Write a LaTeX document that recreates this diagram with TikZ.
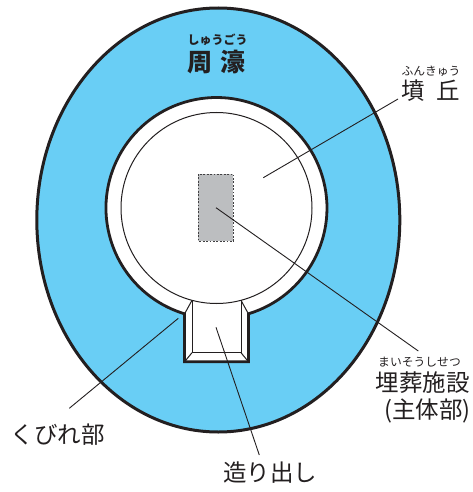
\documentclass[tikz,border=0pt]{standalone}
\usepackage{fontspec}
\setmainfont{Noto Sans CJK JP}
\newfontfamily\jp{Noto Sans CJK JP}
\definecolor{moat}{RGB}{105,206,245}
\definecolor{ink}{HTML}{231F20}
\definecolor{grave}{HTML}{BCBEC0}
\definecolor{dashc}{HTML}{414042}
\tikzset{
  thickline/.style={draw=ink, line width=2.8pt, line join=miter},
  thinline/.style={draw=ink, line width=1pt},
  leader/.style={draw=ink, line width=0.9pt},
  lab/.style={text=ink, inner sep=0pt, font=\jp\fontsize{23.5}{24}\selectfont},
  ruby/.style={text=ink, inner sep=0pt, font=\jp\fontsize{11.8}{12}\selectfont},
}
\begin{document}
\begin{tikzpicture}[x=1pt, y=-1pt]
\useasboundingbox (0,0) rectangle (472,492);
% moat
\path[fill=moat, draw=ink, line width=3pt] (218.3,220) ellipse[x radius=181.5, y radius=212];
% mound with projection
\path[fill=white, thickline] (248.4,313.8) arc[start angle=73.2, end angle=-253.2, radius=110.5]
  -- (184.6,361.7) -- (248.4,361.7) -- cycle;
\draw[thinline] (216.5,208) circle[radius=95.5];
% projection bevel
\draw[thinline] (192,300.3) -- (192,352.7) -- (241,352.7) -- (241,300.3);
\draw[thinline] (184.6,313.8) -- (192,300.3);
\draw[thinline] (248.4,313.8) -- (241,300.3);
\draw[thinline] (184.6,361.7) -- (192,352.7);
\draw[thinline] (248.4,361.7) -- (241,352.7);
% burial facility
\path[fill=grave, draw=dashc, line width=1pt, dash pattern=on 1.8pt off 1.6pt] (198.3,174) rectangle (233.3,241);
% labels
\node[ruby, font=\jp\bfseries\fontsize{12}{12}\selectfont] (r1) at (217.5,39.5) {しゅうごう};
\node[lab, font=\jp\bfseries\fontsize{25}{25}\selectfont] (moatlab) at (216.4,62.5) {周\hspace{0.35em}濠};
\node[ruby] (r2) at (431,71) {ふんきゅう};
\node[lab] (mound) at (431,91) {墳\hspace{0.5em}丘};
\node[ruby] (r3) at (419.5,362) {まいそうしせつ};
\node[lab] (burial) at (422.5,383) {埋葬施設};
\node[lab] (main) at (427.5,411) {(主体部)};
\node[lab] (kubire) at (57.5,435) {くびれ部};
\node[lab] (tsukuri) at (270,473) {造り出し};
% leader ends
\coordinate (m0) at (263.3,177.7);
\coordinate (m1) at (398,99);
\coordinate (b0) at (216,207.7);
\coordinate (b1) at (418.3,351);
\coordinate (k0) at (178.3,318.3);
\coordinate (k1) at (69.3,408.3);
\coordinate (t0) at (216,327.3);
\coordinate (t1) at (259.3,455);
\draw[leader] (m0) -- (m1);
\draw[leader] (b0) -- (b1);
\draw[leader] (k0) -- (k1);
\draw[leader] (t0) -- (t1);
\end{tikzpicture}
\end{document}
